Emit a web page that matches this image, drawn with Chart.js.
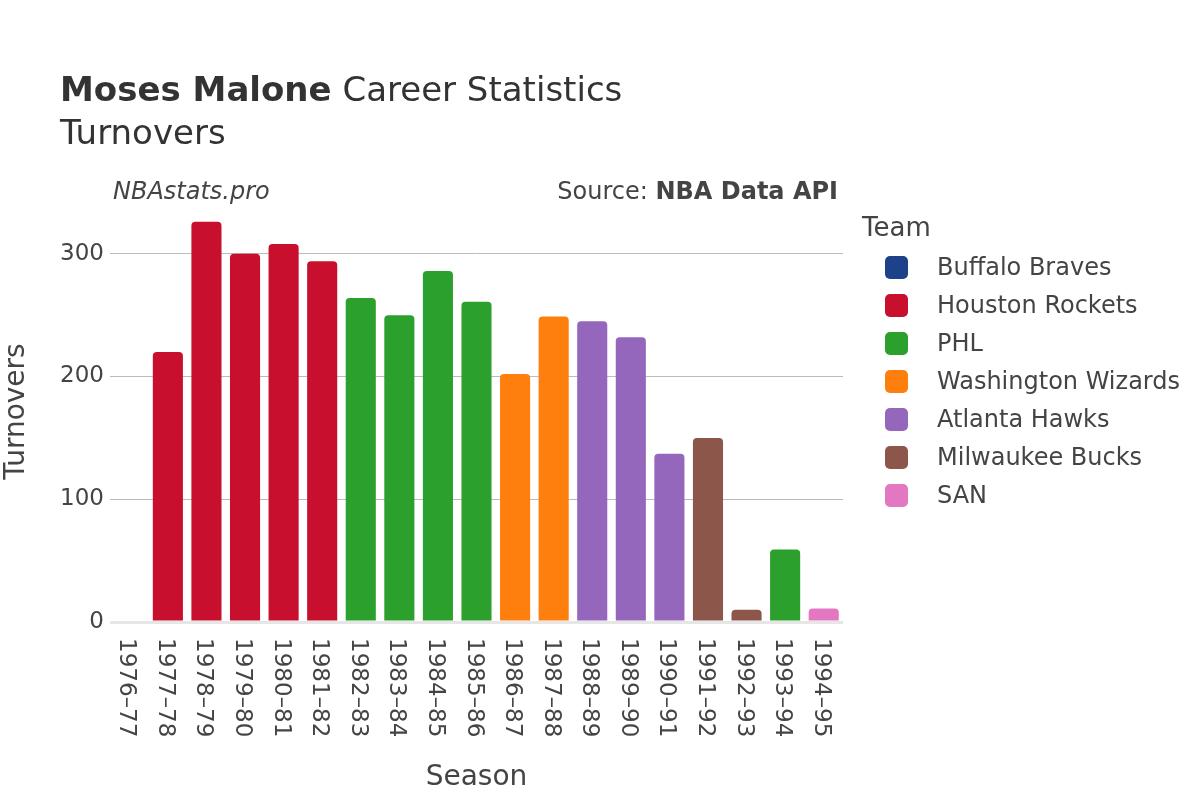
<!DOCTYPE html>
<html>
<head>
<meta charset="utf-8">
<script src="https://cdn.jsdelivr.net/npm/chart.js@4.4.1/dist/chart.umd.min.js"></script>
<style>
  body { margin: 0; background: #fff; font-family: 'DejaVu Sans', sans-serif; color: #444; }
  #wrap { position: relative; width: 1200px; height: 800px; overflow: hidden; }
  #grafico { position: absolute; left: 0; top: 0; }
  .txt { position: absolute; white-space: nowrap; line-height: 1; }
  #legenda { position: absolute; left: 862px; top: 212px; }
  #legenda .titulo { font-size: 26px; margin-bottom: 6px; }
  #legenda .item { display: flex; align-items: center; height: 38px; margin-left: 23px; font-size: 24px; }
  #legenda .cor { flex: 0 0 23px; width: 23px; height: 23px; border-radius: 5px; margin-right: 29px; }
</style>
</head>
<body>
<div id="wrap">
  <canvas id="grafico" width="1200" height="800"></canvas>
  <div class="txt" style="left:60px; top:72px; font-size:34px; color:#333;"><b>Moses Malone</b> Career Statistics</div>
  <div class="txt" style="left:60px; top:115px; font-size:34px; color:#333;">Turnovers</div>
  <div class="txt" style="left:113px; top:179px; font-size:24px; font-style:italic;">NBAstats.pro</div>
  <div class="txt" style="right:362px; top:179px; font-size:24px;">Source: <b>NBA Data API</b></div>
  <div id="legenda"></div>
</div>
<script>
const temporadas = ['1976–77', '1977–78', '1978–79', '1979–80', '1980–81', '1981–82', '1982–83',
    '1983–84', '1984–85', '1985–86', '1986–87', '1987–88', '1988–89', '1989–90', '1990–91',
    '1991–92', '1992–93', '1993–94', '1994–95'];
const timePorTemporada = ['Buffalo Braves', 'Houston Rockets', 'Houston Rockets', 'Houston Rockets',
    'Houston Rockets', 'Houston Rockets', 'PHL', 'PHL', 'PHL', 'PHL', 'Washington Wizards',
    'Washington Wizards', 'Atlanta Hawks', 'Atlanta Hawks', 'Atlanta Hawks', 'Milwaukee Bucks',
    'Milwaukee Bucks', 'PHL', 'SAN'];
const turnovers = [null, 220, 326, 300, 308, 294, 264, 250, 286, 261, 202, 249, 245, 232, 137, 150, 10, 59, 11];
const times = ['Buffalo Braves', 'Houston Rockets', 'PHL', 'Washington Wizards', 'Atlanta Hawks', 'Milwaukee Bucks', 'SAN'];
const coresTimes = ['#1D428A', '#C8102E', '#2CA02C', '#FF7F0E', '#9467BD', '#8C564B', '#E377C2'];
const ticksY = [0, 100, 200, 300];

const datasets = times.map((time, i) => ({
    label: time,
    data: turnovers.map((v, j) => timePorTemporada[j] === time ? v : null),
    backgroundColor: coresTimes[i],
    borderRadius: { topLeft: 4, topRight: 4 },
    borderSkipped: 'start',
    barPercentage: 0.78,
    categoryPercentage: 1
}));

// rótulos do eixo x girados 90° no sentido horário
const rotulosX = {
    id: 'rotulosX',
    afterDraw(chart) {
        const ctx = chart.ctx;
        const escala = chart.scales.x;
        ctx.save();
        ctx.font = '23px "DejaVu Sans"';
        ctx.fillStyle = '#444';
        ctx.textAlign = 'left';
        ctx.textBaseline = 'middle';
        chart.data.labels.forEach((rotulo, i) => {
            ctx.save();
            ctx.translate(escala.getPixelForTick(i) - 3, 638);
            ctx.rotate(Math.PI / 2);
            ctx.fillText(rotulo, 0, 0);
            ctx.restore();
        });
        ctx.restore();
    }
};

new Chart(document.getElementById('grafico').getContext('2d'), {
    type: 'bar',
    data: { labels: temporadas, datasets },
    plugins: [rotulosX],
    options: {
        responsive: false,
        animation: false,
        layout: { padding: { left: 0, right: 357, top: 201, bottom: 0 } },
        plugins: { legend: { display: false }, tooltip: { enabled: false } },
        scales: {
            x: {
                stacked: true,
                grid: { display: false },
                border: { display: false },
                ticks: { display: false },
                title: { display: true, text: 'Season', color: '#444', font: { family: 'DejaVu Sans', size: 28 }, padding: { top: 0, bottom: 5 } },
                afterFit(escala) { escala.height = 178; }
            },
            y: {
                stacked: true,
                min: 0,
                max: 343,
                border: { display: false },
                grid: {
                    drawTicks: false,
                    color: ctx => ctx.tick && ctx.tick.value === 0 ? '#e6e6e6' : '#bbbbbb',
                    lineWidth: ctx => ctx.tick && ctx.tick.value === 0 ? 3 : 1
                },
                afterBuildTicks(escala) { escala.ticks = ticksY.map(v => ({ value: v })); },
                ticks: { color: '#444', padding: 6, font: { family: 'DejaVu Sans', size: 23 } },
                title: { display: true, text: 'Turnovers', color: '#444', font: { family: 'DejaVu Sans', size: 28 }, padding: { top: 0, bottom: 0 } },
                afterFit(escala) { escala.width = 110; }
            }
        }
    }
});

const legenda = document.getElementById('legenda');
legenda.innerHTML = '<div class="titulo">Team</div>' + times.map((t, i) =>
    `<div class="item"><span class="cor" style="background:${coresTimes[i]}"></span>${t}</div>`).join('');
</script>
</body>
</html>
